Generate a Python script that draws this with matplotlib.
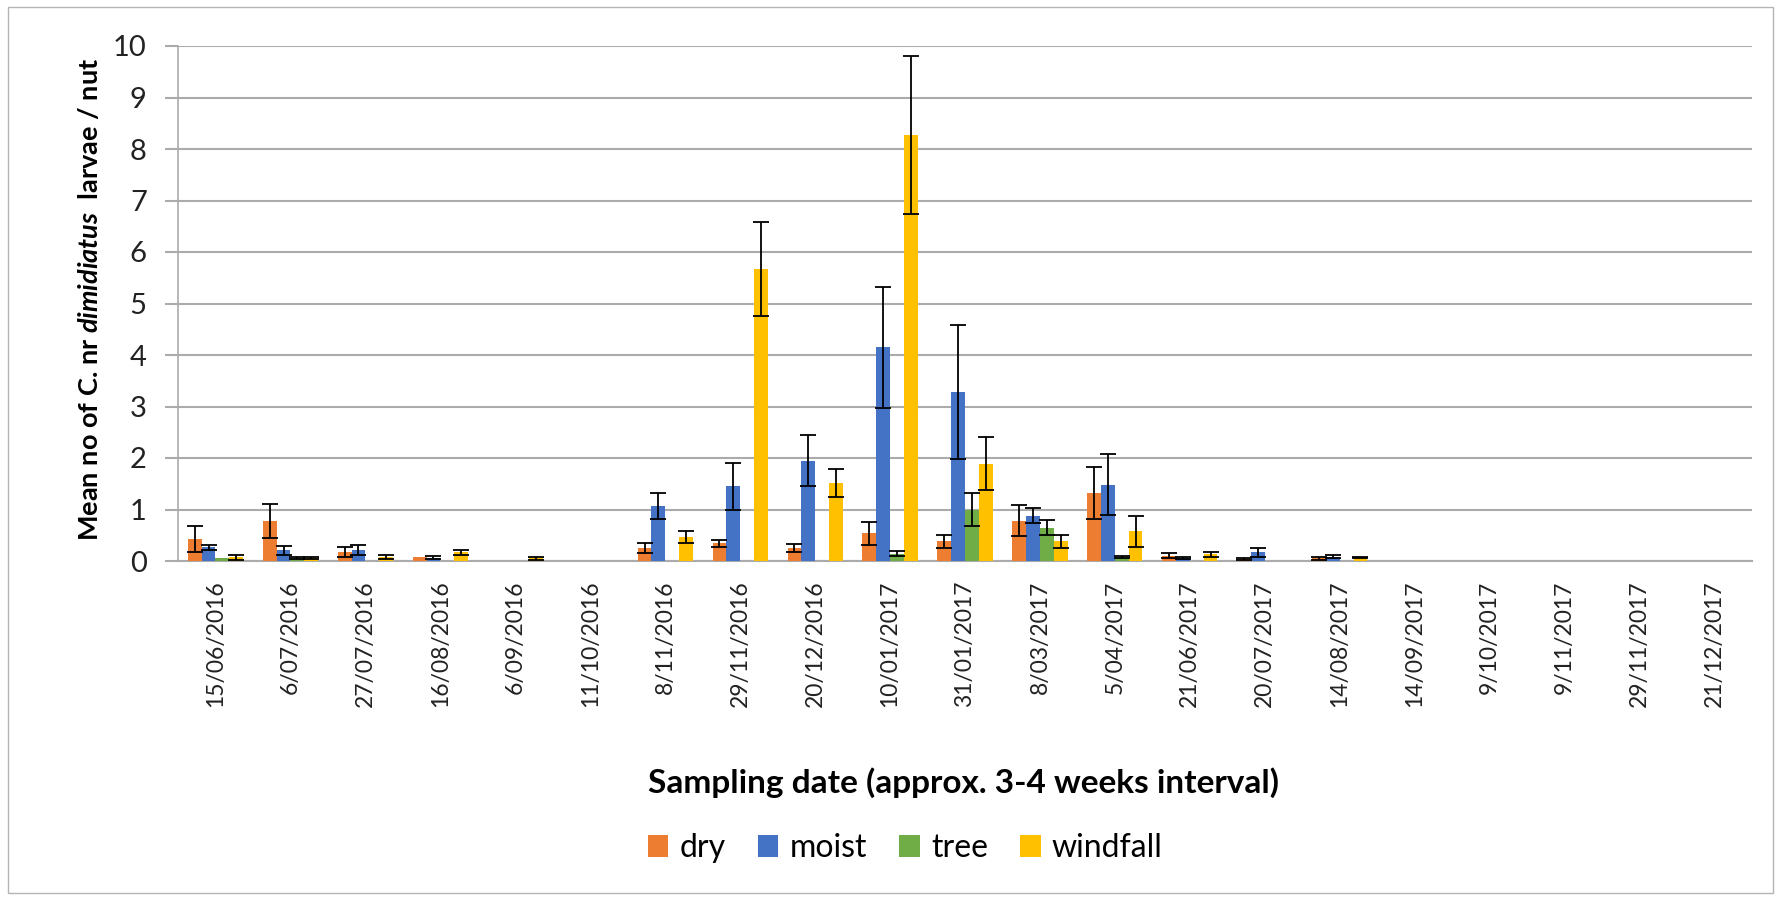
import matplotlib
matplotlib.use("Agg")
import matplotlib.pyplot as plt
import numpy as np

plt.rcParams['font.family'] = ['Lato', 'DejaVu Sans']
plt.rcParams['mathtext.fontset'] = 'custom'
plt.rcParams['mathtext.it'] = 'Lato:italic:bold'

# sampling dates (categories)
dates = ['15/06/2016', '6/07/2016', '27/07/2016', '16/08/2016', '6/09/2016',
         '11/10/2016', '8/11/2016', '29/11/2016', '20/12/2016', '10/01/2017',
         '31/01/2017', '8/03/2017', '5/04/2017', '21/06/2017', '20/07/2017',
         '14/08/2017', '14/09/2017', '9/10/2017', '9/11/2017', '29/11/2017',
         '21/12/2017']

# mean larvae per nut, and standard errors
dry = [0.42, 0.78, 0.18, 0.07, 0, 0, 0.25, 0.34, 0.25, 0.54, 0.38, 0.78, 1.32,
       0.10, 0.04, 0.05, 0, 0, 0, 0, 0]
dry_err = [0.25, 0.33, 0.10, 0, 0, 0, 0.10, 0.07, 0.08, 0.22, 0.12, 0.30, 0.50,
           0.05, 0.02, 0.03, 0, 0, 0, 0, 0]
moist = [0.27, 0.21, 0.21, 0.06, 0, 0, 1.07, 1.45, 1.95, 4.15, 3.28, 0.88, 1.48,
         0.05, 0.17, 0.08, 0, 0, 0, 0, 0]
moist_err = [0.05, 0.09, 0.10, 0.03, 0, 0, 0.25, 0.45, 0.49, 1.18, 1.30, 0.15,
             0.59, 0.02, 0.09, 0.03, 0, 0, 0, 0, 0]
tree = [0.05, 0.05, 0, 0, 0, 0, 0, 0, 0, 0.14, 1.00, 0.65, 0.08, 0, 0, 0, 0, 0,
        0, 0, 0]
tree_err = [0, 0.02, 0, 0, 0, 0, 0, 0, 0, 0.05, 0.33, 0.15, 0.02, 0, 0, 0, 0, 0,
            0, 0, 0]
windfall = [0.07, 0.05, 0.08, 0.17, 0.05, 0, 0.47, 5.67, 1.52, 8.27, 1.89, 0.38,
            0.58, 0.13, 0, 0.07, 0, 0, 0, 0, 0]
windfall_err = [0.05, 0.02, 0.04, 0.05, 0.03, 0, 0.12, 0.92, 0.27, 1.54, 0.52,
                0.12, 0.30, 0.05, 0, 0.01, 0, 0, 0, 0, 0]

series = [('dry', dry, dry_err, '#ED7D31'),
          ('moist', moist, moist_err, '#4472C4'),
          ('tree', tree, tree_err, '#70AD47'),
          ('windfall', windfall, windfall_err, '#FFC000')]

fig = plt.figure(figsize=(17.75, 9.0), dpi=100)
ax = fig.add_axes([178 / 1775, 1 - 561 / 900, (1752 - 178) / 1775, (561 - 46) / 900])

x = np.arange(len(dates))
w = 0.184
for k, (name, vals, errs, col) in enumerate(series):
    pos = x + (k - 1.5) * w
    vals = np.array(vals)
    errs = np.array(errs)
    ax.bar(pos, vals, width=w, color=col, label=name, zorder=3)
    m = errs > 0
    ax.errorbar(pos[m], vals[m], yerr=errs[m], fmt='none', ecolor='black',
                elinewidth=1.3, capsize=6, capthick=1.3, zorder=4)

ax.set_xlim(-0.5, len(dates) - 0.5)
ax.set_ylim(0, 10)
ax.set_yticks(range(11))
ax.yaxis.grid(True, color='#ababab', linewidth=1.5, zorder=0)
ax.set_axisbelow(True)
for s in ['top', 'right']:
    ax.spines[s].set_visible(False)
ax.spines['left'].set_color('#ababab')
ax.spines['bottom'].set_color('#ababab')
ax.spines['left'].set_linewidth(1.2)
ax.spines['bottom'].set_linewidth(1.5)
ax.tick_params(axis='y', length=9.5, width=1.5, color='#ababab', pad=13,
               labelsize=21, labelcolor='#222222')
ax.set_xticks(x)
ax.set_xticklabels(dates, rotation=90, fontsize=16.5, color='#222222')
ax.tick_params(axis='x', length=0, pad=14)

fig.text(0.0507, 0.667, 'Mean no of C. nr $\\mathit{dimidiatus}$  larvae / nut',
         rotation=90, ha='center', va='center', fontsize=19.5, fontweight='bold')
fig.text(0.543, 1 - 783 / 900, 'Sampling date (approx. 3-4 weeks interval)',
         ha='center', va='center', fontsize=24, fontweight='bold')

fig.legend(loc='center', bbox_to_anchor=(0.51, 1 - 848 / 900), ncol=4,
           frameon=False, fontsize=23, handlelength=0.65, handleheight=0.7,
           handletextpad=0.35, columnspacing=1.0)

# chart border
fig.patches.append(plt.Rectangle((8 / 1775, 7 / 900), 1 - 10 / 1775, 1 - 14 / 900,
                                 transform=fig.transFigure, fill=False,
                                 edgecolor='#b4b4b4', linewidth=1))

fig.savefig('out.png', dpi=100)
